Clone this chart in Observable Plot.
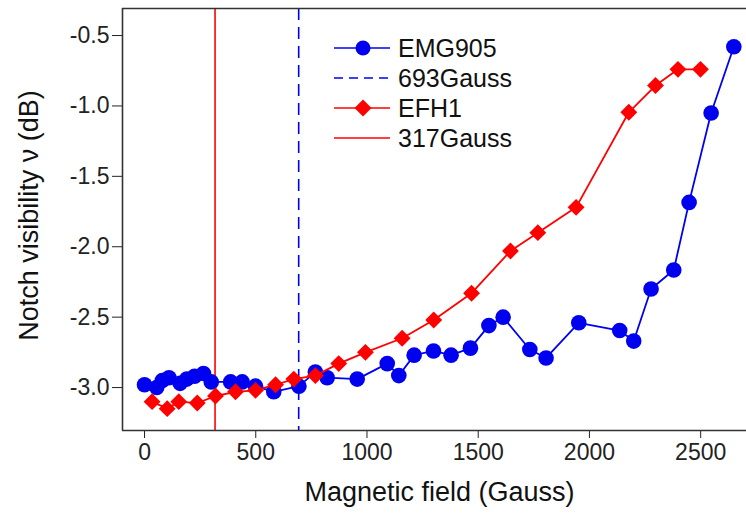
<!DOCTYPE html>
<html><head><meta charset="utf-8">
<script src="https://cdn.jsdelivr.net/npm/d3@7"></script>
<script src="https://cdn.jsdelivr.net/npm/@observablehq/plot@0.6"></script>
<style>
body{margin:0;background:#fff;font-family:"Liberation Sans",Arial,sans-serif;}
#wrap{position:relative;width:746px;height:515px;}
#legend{position:absolute;left:333px;top:33px;}
.row{display:flex;align-items:center;height:30px;font-size:25px;color:#111;}
.row svg{margin-right:7px;}
</style></head><body><div id="wrap"><div id="legend"></div></div>
<script>
// EMG905 (blue circles)
const emgField = [0, 55, 80, 110, 160, 190, 225, 265, 300, 387, 439, 499, 581, 694, 768, 821, 956, 1091, 1143, 1212, 1299, 1378, 1465, 1548, 1612, 1732, 1805, 1952, 2136, 2199, 2277, 2379, 2448, 2547, 2649];
const emgVis   = [-2.98, -3.00, -2.95, -2.93, -2.97, -2.94, -2.92, -2.90, -2.96, -2.96, -2.96, -2.99, -3.03, -2.99, -2.89, -2.93, -2.94, -2.83, -2.915, -2.77, -2.74, -2.77, -2.72, -2.56, -2.50, -2.73, -2.79, -2.54, -2.595, -2.67, -2.30, -2.165, -1.685, -1.05, -0.58];
// EFH1 (red diamonds)
const efhField = [34, 102, 154, 237, 319, 409, 499, 589, 671, 768, 873, 993, 1158, 1300, 1470, 1645, 1768, 1940, 2177, 2297, 2398, 2499];
const efhVis   = [-3.10, -3.15, -3.10, -3.11, -3.06, -3.03, -3.02, -2.98, -2.94, -2.915, -2.83, -2.75, -2.65, -2.52, -2.33, -2.03, -1.90, -1.72, -1.045, -0.855, -0.74, -0.74];
// threshold fields
const emgThreshold = 693;
const efhThreshold = 317;
const xTicks = [0, 500, 1000, 1500, 2000, 2500];
const yTicks = [-3.0, -2.5, -2.0, -1.5, -1.0, -0.5];
const legendNames = ["EMG905", "693Gauss", "EFH1", "317Gauss"];
const xTitle = "Magnetic field (Gauss)";
const yTitle = "Notch visibility ν (dB)";

const BLUE = "#0000f0", RED = "#ff0000", FRAME = "#333";
const X0 = -99, X1 = 2706, Y0 = -3.305, Y1 = -0.308;

const emg = emgField.map((x, i) => ({x, y: emgVis[i]}));
const efh = efhField.map((x, i) => ({x, y: efhVis[i]}));

const chart = Plot.plot({
  width: 746, height: 515,
  marginTop: 8, marginBottom: 85, marginLeft: 122, marginRight: 0,
  style: {fontFamily: '"Liberation Sans", Arial, sans-serif', fontSize: "23px", color: "#222", background: "transparent"},
  x: {domain: [X0, X1], ticks: xTicks, tickSize: 8, tickPadding: 5, tickFormat: d => String(d), label: null},
  y: {domain: [Y0, Y1], ticks: yTicks, tickSize: 10, tickPadding: 3, tickFormat: d => d.toFixed(1), label: null},
  marks: [
    Plot.ruleX([efhThreshold], {stroke: RED, strokeWidth: 1.6}),
    Plot.ruleX([emgThreshold], {stroke: BLUE, strokeWidth: 1.6, strokeDasharray: "12,7"}),
    Plot.line(emg, {x: "x", y: "y", stroke: BLUE, strokeWidth: 1.8}),
    Plot.dot(emg, {x: "x", y: "y", r: 7.8, fill: BLUE, symbol: "circle"}),
    Plot.line(efh, {x: "x", y: "y", stroke: RED, strokeWidth: 1.8}),
    Plot.dot(efh, {x: "x", y: "y", r: 7.6, fill: RED, symbol: "diamond2"}),
    Plot.ruleY([Y1], {stroke: FRAME, strokeWidth: 1.6}),
    Plot.ruleY([Y0], {stroke: FRAME, strokeWidth: 1.6}),
    Plot.ruleX([X0], {stroke: FRAME, strokeWidth: 1.6}),
    Plot.text([xTitle], {frameAnchor: "bottom", dx: 5, dy: 70, fontSize: 27, fill: "#111", textAnchor: "middle"}),
    Plot.text([yTitle], {frameAnchor: "left", dx: -93, dy: -4, rotate: -90, fontSize: 27, fill: "#111", textAnchor: "middle"})
  ]
});
document.getElementById("wrap").prepend(chart);

// Legend (HTML, real text)
const legendStyles = [
  {stroke: BLUE, dash: null, marker: "circle"},
  {stroke: BLUE, dash: "9,6", marker: null},
  {stroke: RED, dash: null, marker: "diamond"},
  {stroke: RED, dash: null, marker: null}
];
const legend = document.getElementById("legend");
legendNames.forEach((name, i) => {
  const s = legendStyles[i];
  const row = document.createElement("div");
  row.className = "row";
  let m = "";
  if (s.marker === "circle") m = `<circle cx="30" cy="10" r="7.5" fill="${s.stroke}"/>`;
  if (s.marker === "diamond") m = `<path d="M30,1.5L38.5,10L30,18.5L21.5,10Z" fill="${s.stroke}"/>`;
  row.innerHTML = `<svg width="58" height="20"><line x1="1" x2="57" y1="10" y2="10" stroke="${s.stroke}" stroke-width="1.6" ${s.dash ? `stroke-dasharray="${s.dash}"` : ""}/>${m}</svg><span>${name}</span>`;
  legend.appendChild(row);
});
</script>
</body></html>
